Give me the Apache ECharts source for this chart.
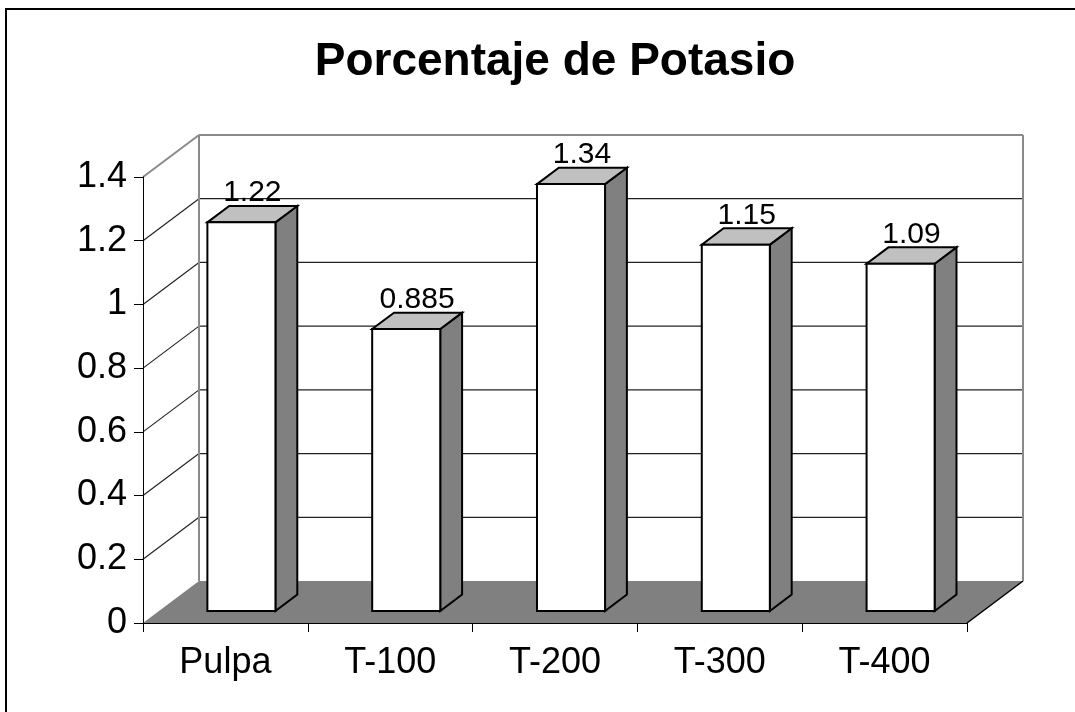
<!DOCTYPE html>
<html>
<head>
<meta charset="utf-8">
<script src="https://cdn.jsdelivr.net/npm/echarts@6/dist/echarts.min.js"></script>
<style>
html,body{margin:0;padding:0;background:#fff;}
#chart{width:1075px;height:712px;}
</style>
</head>
<body>
<div id="chart"></div>
<script>
// ---- data ----
const categories = ['Pulpa', 'T-100', 'T-200', 'T-300', 'T-400'];
const values = [1.22, 0.885, 1.34, 1.15, 1.09];
const yTicks = [0, 0.2, 0.4, 0.6, 0.8, 1.0, 1.2, 1.4];
const titleText = 'Porcentaje de Potasio';

// ---- 3D look (styling) ----
const WALL_DX = 56, WALL_DY = -42;      // depth of the chart box
const BAR_OFF = 0.286;                   // bar front plane, fraction of depth
const BAR_DEPTH = 0.39;                  // bar thickness, fraction of depth
const BAR_FRAC = 0.413;                  // bar width, fraction of category
const FONT = "'Liberation Sans', Arial, sans-serif";

const chart = echarts.init(document.getElementById('chart'), null, {renderer: 'canvas'});

function renderBox(params, api) {
  const cs = params.coordSys;
  const x0 = cs.x, x1 = cs.x + cs.width;
  const yBase = api.coord([0, yTicks[0]])[1];
  const yTop = api.coord([0, yTicks[yTicks.length - 1]])[1];
  const children = [];
  // floor
  children.push({
    type: 'polygon',
    shape: {points: [[x0, yBase], [x1, yBase], [x1 + WALL_DX, yBase + WALL_DY], [x0 + WALL_DX, yBase + WALL_DY]]},
    style: {fill: '#808080', stroke: null}
  });
  children.push({
    type: 'line',
    shape: {x1: x1, y1: yBase, x2: x1 + WALL_DX, y2: yBase + WALL_DY},
    style: {stroke: '#000', lineWidth: 1.5}
  });
  // gridlines on back wall and left wall
  for (let i = 1; i < yTicks.length - 1; i++) {
    const y = api.coord([0, yTicks[i]])[1];
    children.push({
      type: 'line',
      shape: {x1: x0 + WALL_DX, y1: y + WALL_DY, x2: x1 + WALL_DX, y2: y + WALL_DY},
      style: {stroke: '#222', lineWidth: 1.2}
    });
    children.push({
      type: 'line',
      shape: {x1: x0, y1: y, x2: x0 + WALL_DX, y2: y + WALL_DY},
      style: {stroke: '#222', lineWidth: 1.2}
    });
  }
  // wall borders (gray)
  const bx0 = x0 + WALL_DX, bx1 = x1 + WALL_DX, byT = yTop + WALL_DY, byB = yBase + WALL_DY;
  const gray = {stroke: '#8a8a8a', lineWidth: 2};
  children.push({type: 'line', shape: {x1: bx0, y1: byT, x2: bx1, y2: byT}, style: gray});
  children.push({type: 'line', shape: {x1: bx1, y1: byT, x2: bx1, y2: byB}, style: gray});
  children.push({type: 'line', shape: {x1: bx0, y1: byT, x2: bx0, y2: byB}, style: gray});
  children.push({type: 'line', shape: {x1: x0, y1: yTop, x2: bx0, y2: byT}, style: gray});
  return {type: 'group', children: children};
}

function renderBar(params, api) {
  const idx = api.value(0), v = api.value(1);
  const top = api.coord([idx, v]);
  const base = api.coord([idx, 0]);
  const cw = api.size([1, 0])[0];
  const bw = cw * BAR_FRAC;
  const offX = WALL_DX * BAR_OFF, offY = WALL_DY * BAR_OFF;
  const dx = WALL_DX * BAR_DEPTH, dy = WALL_DY * BAR_DEPTH;
  const cx = top[0] + offX;
  const xa = cx - bw / 2, xb = cx + bw / 2;
  const yt = top[1] + offY, yb = base[1] + offY;
  const line = {stroke: '#000', lineWidth: 2, lineJoin: 'miter'};
  return {
    type: 'group',
    children: [
      {type: 'polygon', shape: {points: [[xb, yt], [xb + dx, yt + dy], [xb + dx, yb + dy], [xb, yb]]},
        style: Object.assign({fill: '#808080'}, line)},
      {type: 'polygon', shape: {points: [[xa, yt], [xb, yt], [xb + dx, yt + dy], [xa + dx, yt + dy]]},
        style: Object.assign({fill: '#c0c0c0'}, line)},
      {type: 'rect', shape: {x: xa, y: yt, width: bw, height: yb - yt},
        style: Object.assign({fill: '#ffffff'}, line)},
      {type: 'text', style: {
        text: String(values[idx]), x: cx + dx / 2, y: yt + dy - 13,
        align: 'center', verticalAlign: 'middle',
        font: '30px ' + FONT, fill: '#000'}}
    ]
  };
}

const option = {
  backgroundColor: '#fff',
  animation: false,
  title: {
    text: titleText, left: 550, top: 34, textAlign: 'center',
    textStyle: {fontSize: 46, fontWeight: 'bold', color: '#000', fontFamily: FONT}
  },
  graphic: [{
    type: 'rect', shape: {x: 6, y: 9, width: 1100, height: 800},
    style: {fill: null, stroke: '#000', lineWidth: 2}, silent: true, z: 100
  }],
  grid: {left: 143, top: 177, width: 824, height: 446, containLabel: false},
  xAxis: {
    type: 'category', data: categories, z: 10,
    axisLine: {show: true, lineStyle: {color: '#000', width: 1}},
    axisTick: {show: true, length: 9, lineStyle: {color: '#000', width: 1}},
    axisLabel: {fontSize: 36, color: '#000', fontFamily: FONT, margin: 22},
    splitLine: {show: false}
  },
  yAxis: {
    type: 'value', min: 0, max: 1.4, interval: 0.2, z: 10,
    axisLine: {show: true, lineStyle: {color: '#000', width: 1}},
    axisTick: {show: true, length: 9, lineStyle: {color: '#000', width: 1}},
    axisLabel: {fontSize: 36, color: '#000', fontFamily: FONT, margin: 16},
    splitLine: {show: false}
  },
  series: [
    {type: 'custom', renderItem: renderBox, data: [[0, 0]], z: 1, silent: true},
    {type: 'custom', renderItem: renderBar, data: values.map((v, i) => [i, v]), z: 3,
      encode: {x: 0, y: 1}}
  ]
};
chart.setOption(option);
</script>
</body>
</html>
